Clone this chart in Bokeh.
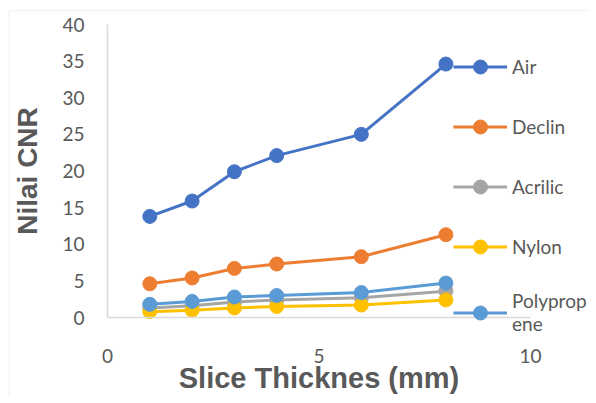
from bokeh.plotting import figure
from bokeh.models import Range1d, Legend, LegendItem, FixedTicker, BoxAnnotation
from bokeh.embed import file_html
from bokeh.resources import INLINE

thickness = [1, 2, 3, 4, 6, 8]
air = [13.8, 15.9, 19.9, 22.1, 25.0, 34.6]
declin = [4.6, 5.4, 6.7, 7.3, 8.3, 11.3]
acrilic = [1.3, 1.6, 2.1, 2.4, 2.7, 3.6]
nylon = [0.8, 1.0, 1.3, 1.5, 1.7, 2.4]
polypropylene = [1.8, 2.2, 2.8, 3.0, 3.4, 4.7]

series_names = ["Air", "Declin", "Acrilic", "Nylon", "Polyprop\nene"]
series_values = [air, declin, acrilic, nylon, polypropylene]
colors = ["#4472C4", "#ED7D31", "#A5A5A5", "#FFC000", "#5B9BD5"]

x_ticks = [0, 5, 10]
y_ticks = [0, 5, 10, 15, 20, 25, 30, 35, 40]

W, H = 588, 395
X0_PX, Y40_PX = 107, 24   # canvas pixel of x = 0 and of y = 40
AXIS_X_PX = 423           # pixels spanned by x = 0..10
AXIS_Y_PX = 293           # pixels spanned by y = 0..40
BORDER_LEFT_PX, BORDER_TOP_PX = 8.5, 10  # chart-area border
ppx = AXIS_X_PX / 10
ppy = AXIS_Y_PX / 40
x_start = -X0_PX / ppx
x_end = (W - X0_PX) / ppx
y_end = 40 + Y40_PX / ppy
y_start = -(H - Y40_PX - AXIS_Y_PX) / ppy

p = figure(width=W, height=H, output_backend="svg", toolbar_location=None,
           x_range=Range1d(x_start, x_end), y_range=Range1d(y_start, y_end),
           min_border=0)
p.outline_line_color = None
p.xgrid.visible = False
p.ygrid.visible = False

# light border of the chart area (left and top edges visible)
p.add_layout(BoxAnnotation(left=x_start + BORDER_LEFT_PX / ppx,
                           top=y_end - BORDER_TOP_PX / ppy,
                           right=x_end + 5, bottom=y_start - 5,
                           fill_color=None, line_color="#D9D9D9", line_width=1.5))

TICK_FONT = "Lato"
for ax in (p.xaxis[0], p.yaxis[0]):
    ax.fixed_location = 0
    ax.axis_line_color = "#D9D9D9"
    ax.axis_line_width = 1.5
    ax.major_tick_line_color = None
    ax.minor_tick_line_color = None
    ax.major_tick_in = 0
    ax.major_tick_out = 0
    ax.minor_tick_in = 0
    ax.minor_tick_out = 0
    ax.major_label_text_font = TICK_FONT
    ax.major_label_text_font_size = "19px"
    ax.major_label_text_color = "#595959"
    ax.axis_label_text_font = "Liberation Sans"
    ax.axis_label_text_font_style = "bold"
    ax.axis_label_text_color = "#595959"

p.xaxis.bounds = (0, 10)
p.yaxis.bounds = (0, 40)
p.xaxis.ticker = FixedTicker(ticks=x_ticks)
p.yaxis.ticker = FixedTicker(ticks=y_ticks)
p.xaxis.axis_label = "Slice Thicknes (mm)"
p.yaxis.axis_label = "Nilai CNR"
p.xaxis.axis_label_text_font_size = "29px"
p.yaxis.axis_label_text_font_size = "28px"
p.xaxis.major_label_standoff = 31
p.xaxis.axis_label_standoff = -4
p.yaxis.major_label_standoff = 23
p.yaxis.axis_label_standoff = 16

items = []
for name, vals, c in zip(series_names, series_values, colors):
    r1 = p.line(thickness, vals, line_color=c, line_width=3)
    r2 = p.scatter(thickness, vals, size=14, fill_color=c, line_color=c)
    items.append(LegendItem(label=name, renderers=[r1, r2]))

legend = Legend(items=items, location=(453, 60), orientation="vertical",
                glyph_width=54, glyph_height=35, label_height=21,
                spacing=25, padding=0, margin=0, label_standoff=5,
                border_line_color=None, background_fill_color=None,
                label_text_font=TICK_FONT, label_text_font_size="19px",
                label_text_color="#595959")
p.add_layout(legend, "center")

open("out.html", "w").write(file_html(p, INLINE))
